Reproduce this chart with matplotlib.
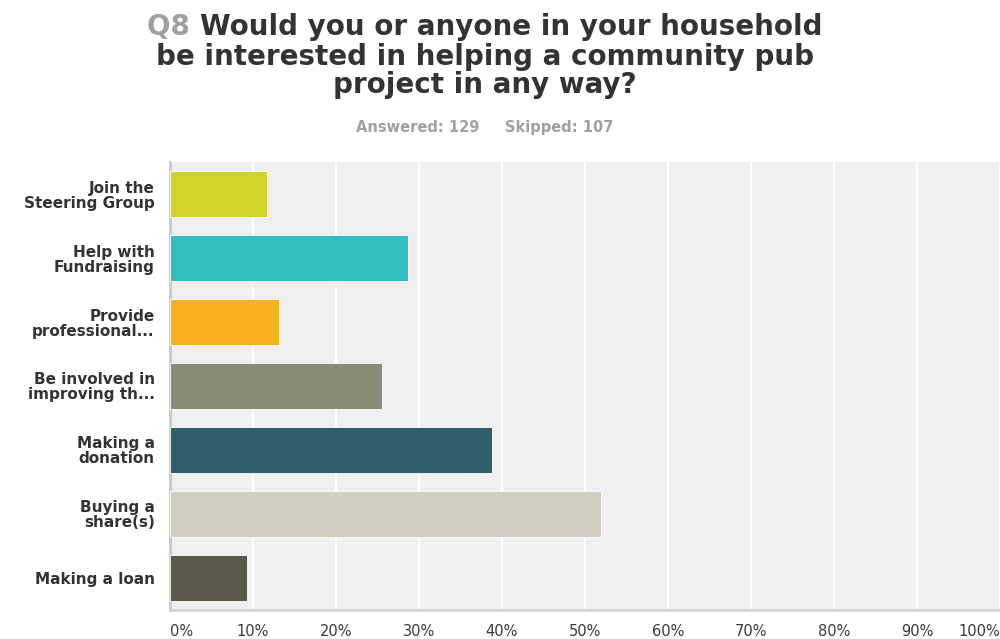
import matplotlib.pyplot as plt
import numpy as np

plt.rcParams['font.family'] = ['DejaVu Sans']

answers = ['Join the\nSteering Group', 'Help with\nFundraising', 'Provide\nprofessional...',
           'Be involved in\nimproving th...', 'Making a\ndonation', 'Buying a\nshare(s)',
           'Making a loan']
responses = [11.63, 28.68, 13.18, 25.58, 38.76, 51.94, 9.30]
bar_colors = ['#D0D428', '#33BEC0', '#F7B01F', '#8A8A78', '#2F5F6B', '#CFCEC0', '#5B5A4A']
tick_vals = np.arange(0, 101, 10)
tick_labels = ['%d%%' % v for v in tick_vals]

fig = plt.figure(figsize=(10, 6.39), dpi=100)
ax = fig.add_axes([0.17, 0.046, 0.83, 0.7])
ax.set_facecolor('#EFEFEF')

y = np.arange(len(answers))
ax.barh(y, responses, height=0.72, color=bar_colors, edgecolor='white', linewidth=0.6, zorder=3)
ax.set_ylim(len(answers) - 0.5, -0.5)
ax.set_xlim(0, 100)

ax.set_xticks(tick_vals)
ax.set_xticklabels(tick_labels, fontsize=10.5, color='#3A3A3A')
ax.xaxis.grid(True, color='white', linewidth=1.5, zorder=1)
ax.tick_params(axis='x', length=0, pad=10.5)
xl = ax.get_xticklabels()
xl[0].set_horizontalalignment('left')
xl[-1].set_horizontalalignment('right')

ax.set_yticks(y)
ax.set_yticklabels(answers, fontsize=11, fontweight='bold', color='#333333',
                   multialignment='right', linespacing=1.0)
ax.tick_params(axis='y', length=0, pad=11)

for s in ['top', 'right']:
    ax.spines[s].set_visible(False)
ax.spines['left'].set_color('#C8C8C8')
ax.spines['left'].set_linewidth(2)
ax.spines['bottom'].set_color('#D4D4D4')
ax.spines['bottom'].set_linewidth(2)

# title: grey question number followed by the question text, centred as one line
title_kw = dict(fontsize=20, fontweight='bold', va='baseline')
cx = 0.485
r = fig.canvas.get_renderer()
q = fig.text(0, 0.946, 'Q8 ', color='#A0A0A0', **title_kw)
w = fig.text(0, 0.946, 'Would you or anyone in your household', color='#333333', **title_kw)
qw = q.get_window_extent(r).width / fig.bbox.width
ww = w.get_window_extent(r).width / fig.bbox.width
q.set_x(cx - (qw + ww) / 2)
w.set_x(cx - (qw + ww) / 2 + qw)
fig.text(cx, 0.898, 'be interested in helping a community pub', color='#333333',
         ha='center', **title_kw)
fig.text(cx, 0.854, 'project in any way?', color='#333333', ha='center', **title_kw)
fig.text(cx, 0.801, 'Answered: 129     Skipped: 107', fontsize=10.5, fontweight='bold',
         color='#A0A0A0', ha='center', va='center')

fig.savefig('out.png', dpi=100, facecolor='white')
